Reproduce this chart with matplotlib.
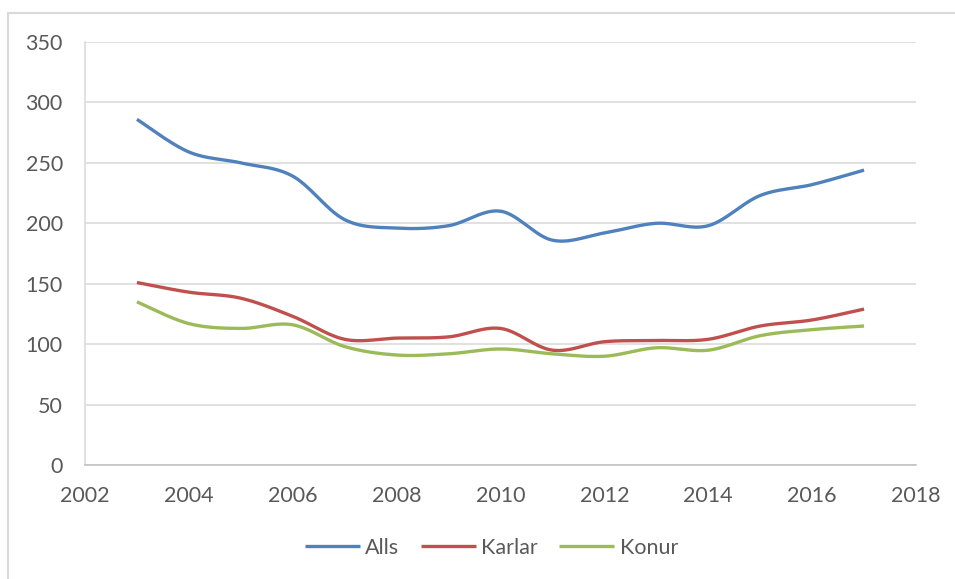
import numpy as np
import matplotlib
matplotlib.use("Agg")
import matplotlib.pyplot as plt
from matplotlib.patches import Rectangle

years = list(range(2003, 2018))
alls = [286, 259, 250, 239, 203, 196, 198, 210, 186, 192, 200, 198, 223, 232, 244]
karlar = [151, 143, 138, 123, 104, 105, 106, 113, 95, 102, 103, 104, 115, 120, 129]
konur = [135, 117, 113, 116, 98, 91, 92, 96, 92, 90, 97, 95, 107, 112, 115]
series_names = ["Alls", "Karlar", "Konur"]
colors = ["#4F81BD", "#C0504D", "#9BBB59"]
xticks = list(range(2002, 2019, 2))
yticks = list(range(0, 351, 50))

plt.rcParams['font.family'] = ['Lato', 'DejaVu Sans']


def smooth(x, y, n=30):
    # Catmull-Rom style Bezier smoothing (similar to Excel's smoothed lines)
    x = np.asarray(x, float)
    y = np.asarray(y, float)
    px, py = [], []
    m = len(x)
    for i in range(m - 1):
        p0 = np.array([x[i - 1] if i > 0 else x[i], y[i - 1] if i > 0 else y[i]])
        p1 = np.array([x[i], y[i]])
        p2 = np.array([x[i + 1], y[i + 1]])
        p3 = np.array([x[i + 2] if i + 2 < m else x[i + 1], y[i + 2] if i + 2 < m else y[i + 1]])
        c1 = p1 + (p2 - p0) / 6.0
        c2 = p2 - (p3 - p1) / 6.0
        t = np.linspace(0, 1, n, endpoint=(i == m - 2))
        b = ((1 - t) ** 3)[:, None] * p1 + (3 * (1 - t) ** 2 * t)[:, None] * c1 + \
            (3 * (1 - t) * t ** 2)[:, None] * c2 + (t ** 3)[:, None] * p2
        px.extend(b[:, 0])
        py.extend(b[:, 1])
    return px, py


W, H = 955, 579
fig = plt.figure(figsize=(W / 100, H / 100), dpi=100)
fig.patch.set_facecolor("white")

# outer chart border
fig.patches.append(Rectangle((8 / W, -0.1), 1.2, (H - 13) / H + 0.1, transform=fig.transFigure,
                             fill=False, edgecolor="#D9D9D9", linewidth=1.5))

ax = fig.add_axes([85 / W, 1 - 465 / H, 831 / W, 423 / H])
for name, vals, c in zip(series_names, [alls, karlar, konur], colors):
    sx, sy = smooth(years, vals)
    ax.plot(sx, sy, color=c, linewidth=2.4, label=name, solid_capstyle="butt")

ax.set_xlim(2002, 2018)
ax.set_ylim(0, 350)
ax.set_xticks(xticks)
ax.set_yticks(yticks)
ax.grid(axis="y", color="#D9D9D9", linewidth=1.1)
ax.grid(axis="x", visible=False)
ax.set_axisbelow(True)
for s in ["top", "right"]:
    ax.spines[s].set_visible(False)
ax.spines["left"].set_color("#D9D9D9")
ax.spines["left"].set_linewidth(1.1)
ax.spines["bottom"].set_color("#BFBFBF")
ax.spines["bottom"].set_linewidth(1.1)
ax.tick_params(axis="both", length=0, labelsize=15.5, labelcolor="#595959")
ax.tick_params(axis="y", pad=16)
ax.tick_params(axis="x", pad=15)

leg = fig.legend(loc="center", bbox_to_anchor=(0.5 + 14 / W, 1 - 548 / H), ncol=3, frameon=False,
                 fontsize=15.5, handlelength=2.55, columnspacing=1.0, handletextpad=0.25)
for t in leg.get_texts():
    t.set_color("#595959")

fig.savefig("out.png", dpi=100)
